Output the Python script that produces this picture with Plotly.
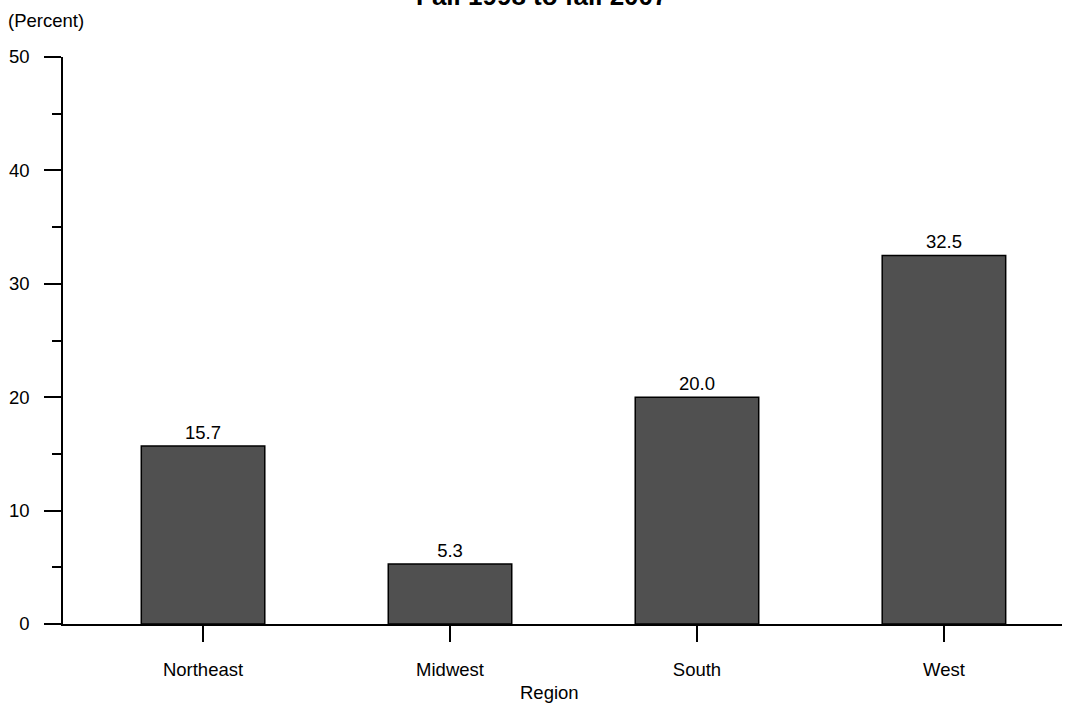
import plotly.graph_objects as go

regions = ["Northeast", "Midwest", "South", "West"]
percent = [15.7, 5.3, 20.0, 32.5]
y_ticks = [0, 10, 20, 30, 40, 50]

FONT = "Liberation Sans, Arial, sans-serif"
FS = 18.5

fig = go.Figure()
fig.add_trace(go.Bar(
    x=regions, y=percent,
    marker=dict(color="#505050", line=dict(color="black", width=1.5)),
    width=0.5,
    texttemplate="%{y:.1f}", textposition="outside",
    textfont=dict(size=FS, color="black", family=FONT),
    cliponaxis=False,
))

fig.update_layout(
    width=1078, height=705,
    margin=dict(l=63, r=16, t=57, b=81),
    paper_bgcolor="white", plot_bgcolor="white",
    font=dict(family=FONT, size=FS, color="black"),
    showlegend=False,
    xaxis=dict(
        range=[-0.567, 3.478], showgrid=False, zeroline=False, automargin=False,
        showline=True, linecolor="black", linewidth=1.5,
        ticks="outside", ticklen=16, tickwidth=1.5, tickcolor="black",
        ticklabelstandoff=12,
    ),
    yaxis=dict(
        range=[0, 50], tickvals=y_ticks, showgrid=False, zeroline=False, automargin=False,
        showline=True, linecolor="black", linewidth=1.5,
        ticks="outside", ticklen=17, tickwidth=1.5, tickcolor="black",
        ticklabelstandoff=11,
        minor=dict(dtick=5, ticks="outside", ticklen=9, tickwidth=1.5, tickcolor="black"),
    ),
    annotations=[
        dict(text="<b>Fall 1998 to fall 2007</b>", xref="paper", yref="paper",
             x=0.479, y=1.107, xanchor="center", yanchor="middle", showarrow=False,
             font=dict(size=26, family=FONT, color="black")),
        dict(text="(Percent)", xref="paper", yref="paper", x=-0.057, y=1.065,
             xanchor="left", yanchor="middle", showarrow=False,
             font=dict(size=FS, family=FONT, color="black")),
        dict(text="Region", xref="paper", yref="paper", x=0.487, y=-0.12,
             xanchor="center", yanchor="middle", showarrow=False,
             font=dict(size=FS, family=FONT, color="black")),
    ],
)

fig.write_html("out.html", config={"displayModeBar": False},
               post_script="document.body.style.margin='0';")
